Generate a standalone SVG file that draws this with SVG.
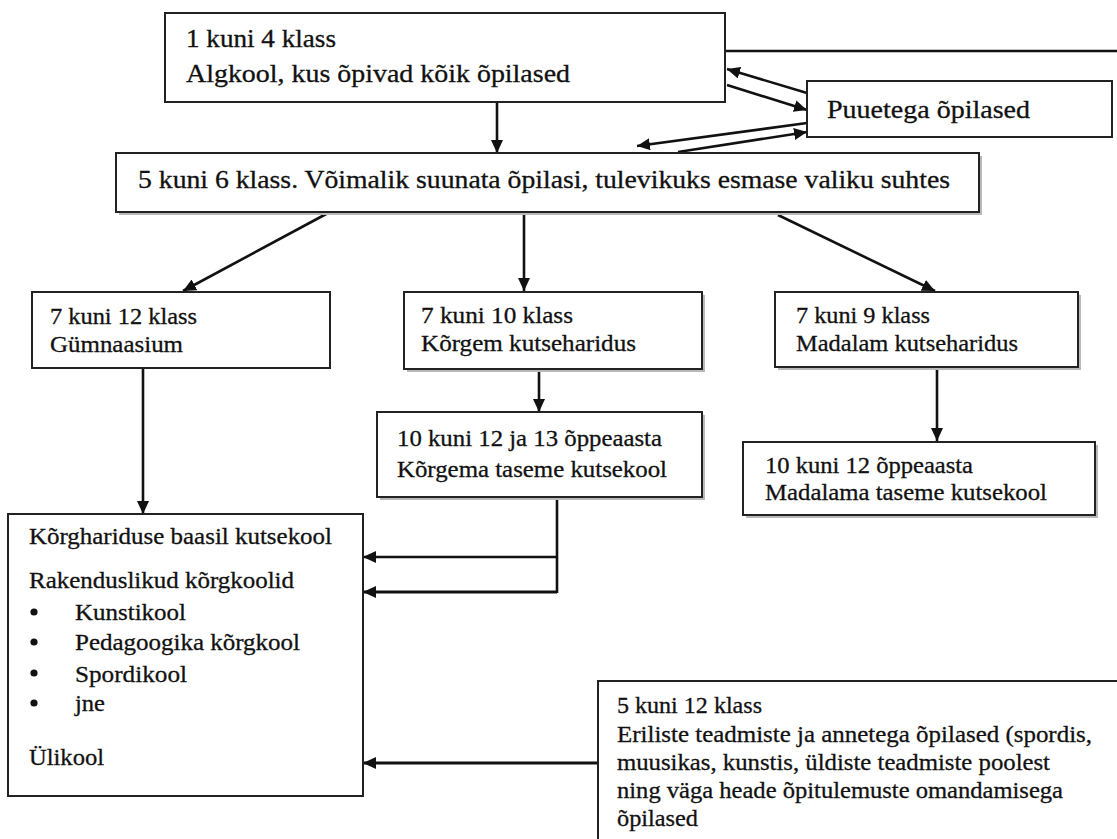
<svg xmlns="http://www.w3.org/2000/svg" width="1117" height="839" viewBox="0 0 1117 839" font-family="'Liberation Serif', 'DejaVu Serif', serif">
<defs>
<marker id="ah" markerUnits="userSpaceOnUse" markerWidth="14" markerHeight="12" refX="13" refY="6" orient="auto">
<path d="M0,0 L13,6 L0,12 z" fill="#111"/>
</marker>
<style>
.box{fill:#fff;stroke:#222;stroke-width:2}
.sh{fill:#b8b8b8}
.t{font-family:'Liberation Serif','DejaVu Serif',serif;fill:#111;stroke:#111;stroke-width:0.3;font-size:24px}
.c{fill:none;stroke:#111;stroke-width:2.6}
.a{marker-end:url(#ah)}
</style>
</defs>
<rect width="1117" height="839" fill="#fff"/>

<g id="connectors">
<line class="c" x1="725" y1="51" x2="1117" y2="51"/>
<line class="c a" x1="497" y1="102" x2="497" y2="153"/>
<line class="c a" x1="807" y1="93" x2="727" y2="69"/>
<line class="c a" x1="727" y1="85" x2="807" y2="110"/>
<line class="c a" x1="807" y1="123" x2="637" y2="146"/>
<line class="c a" x1="678" y1="152" x2="807" y2="132"/>
<line class="c a" x1="328" y1="213" x2="183" y2="291"/>
<line class="c a" x1="524" y1="212" x2="524" y2="291"/>
<line class="c a" x1="778" y1="215" x2="935" y2="291"/>
<line class="c a" x1="143" y1="368" x2="143" y2="514"/>
<line class="c a" x1="539" y1="369" x2="539" y2="412"/>
<line class="c a" x1="937" y1="367" x2="937" y2="441"/>
<line class="c" x1="557" y1="497" x2="557" y2="593"/>
<line class="c a" x1="557" y1="557" x2="363" y2="557"/>
<line class="c a" x1="557" y1="592" x2="363" y2="592" style="stroke-width:3.2"/>
<line class="c a" x1="598" y1="763" x2="363" y2="763" style="stroke-width:3"/>
</g>

<g id="n-algkool">
<rect class="box" x="165" y="13" width="560" height="89"/>
<text class="t" x="186" y="47" textLength="150" lengthAdjust="spacingAndGlyphs" style="font-size:25px">1 kuni 4 klass</text>
<text class="t" x="186" y="82" textLength="384" lengthAdjust="spacingAndGlyphs" style="font-size:25px">Algkool, kus õpivad kõik õpilased</text>
</g>

<g id="n-puuetega">
<rect class="box" x="807" y="81" width="305" height="56"/>
<text class="t" x="827" y="118" textLength="203" lengthAdjust="spacingAndGlyphs" style="font-size:26px">Puuetega õpilased</text>
</g>

<g id="n-5-6">
<rect class="sh" x="119" y="156" width="863" height="59"/>
<rect class="box" x="116" y="153" width="863" height="59"/>
<text class="t" x="138" y="188" textLength="812" lengthAdjust="spacingAndGlyphs" style="font-size:25px">5 kuni 6 klass. Võimalik suunata õpilasi, tulevikuks esmase valiku suhtes</text>
</g>

<g id="n-gymnaasium">
<rect class="box" x="32" y="292" width="298" height="76"/>
<text class="t" x="50" y="324" textLength="147" lengthAdjust="spacingAndGlyphs">7 kuni 12 klass</text>
<text class="t" x="50" y="352" textLength="133" lengthAdjust="spacingAndGlyphs">Gümnaasium</text>
</g>

<g id="n-korgem">
<rect class="sh" x="407" y="295" width="298" height="77"/>
<rect class="box" x="404" y="292" width="298" height="77"/>
<text class="t" x="421" y="323" textLength="152" lengthAdjust="spacingAndGlyphs">7 kuni 10 klass</text>
<text class="t" x="421" y="351" textLength="215" lengthAdjust="spacingAndGlyphs">Kõrgem kutseharidus</text>
</g>

<g id="n-madalam">
<rect class="sh" x="778" y="295" width="303" height="75"/>
<rect class="box" x="775" y="292" width="303" height="75"/>
<text class="t" x="796" y="323" textLength="134" lengthAdjust="spacingAndGlyphs">7 kuni 9 klass</text>
<text class="t" x="796" y="351" textLength="222" lengthAdjust="spacingAndGlyphs">Madalam kutseharidus</text>
</g>

<g id="n-korgema-kutsekool">
<rect class="sh" x="380" y="415" width="325" height="85"/>
<rect class="box" x="377" y="412" width="325" height="85"/>
<text class="t" x="397" y="446" textLength="265" lengthAdjust="spacingAndGlyphs">10 kuni 12 ja 13 õppeaasta</text>
<text class="t" x="397" y="477" textLength="270" lengthAdjust="spacingAndGlyphs">Kõrgema taseme  kutsekool</text>
</g>

<g id="n-madalama-kutsekool">
<rect class="sh" x="746" y="445" width="352" height="73"/>
<rect class="box" x="743" y="442" width="352" height="73"/>
<text class="t" x="765" y="473" textLength="208" lengthAdjust="spacingAndGlyphs">10 kuni 12 õppeaasta</text>
<text class="t" x="765" y="500" textLength="282" lengthAdjust="spacingAndGlyphs">Madalama taseme  kutsekool</text>
</g>

<g id="n-korgharidus">
<rect class="box" x="8" y="514" width="355" height="282"/>
<text class="t" x="29" y="544" textLength="303" lengthAdjust="spacingAndGlyphs">Kõrghariduse baasil  kutsekool</text>
<text class="t" x="29" y="588" textLength="265" lengthAdjust="spacingAndGlyphs">Rakenduslikud kõrgkoolid</text>
<circle cx="34" cy="612" r="3.6" fill="#111"/>
<text class="t" x="75" y="620" textLength="111" lengthAdjust="spacingAndGlyphs">Kunstikool</text>
<circle cx="34" cy="642" r="3.6" fill="#111"/>
<text class="t" x="75" y="650" textLength="225" lengthAdjust="spacingAndGlyphs">Pedagoogika kõrgkool</text>
<circle cx="34" cy="673" r="3.6" fill="#111"/>
<text class="t" x="75" y="682" textLength="112" lengthAdjust="spacingAndGlyphs">Spordikool</text>
<circle cx="34" cy="703" r="3.6" fill="#111"/>
<text class="t" x="75" y="711" textLength="30" lengthAdjust="spacingAndGlyphs">jne</text>
<text class="t" x="29" y="765" textLength="75" lengthAdjust="spacingAndGlyphs">Ülikool</text>
</g>

<g id="n-erilised">
<rect class="box" x="598" y="681" width="540" height="200"/>
<text class="t" x="617" y="713" textLength="145" lengthAdjust="spacingAndGlyphs">5 kuni 12 klass</text>
<text class="t" x="617" y="742" textLength="475" lengthAdjust="spacingAndGlyphs">Eriliste teadmiste ja annetega õpilased (spordis,</text>
<text class="t" x="617" y="770" textLength="433" lengthAdjust="spacingAndGlyphs">muusikas, kunstis, üldiste teadmiste poolest</text>
<text class="t" x="617" y="798" textLength="446" lengthAdjust="spacingAndGlyphs">ning väga heade õpitulemuste omandamisega</text>
<text class="t" x="617" y="826" textLength="81" lengthAdjust="spacingAndGlyphs">õpilased</text>
</g>
</svg>
